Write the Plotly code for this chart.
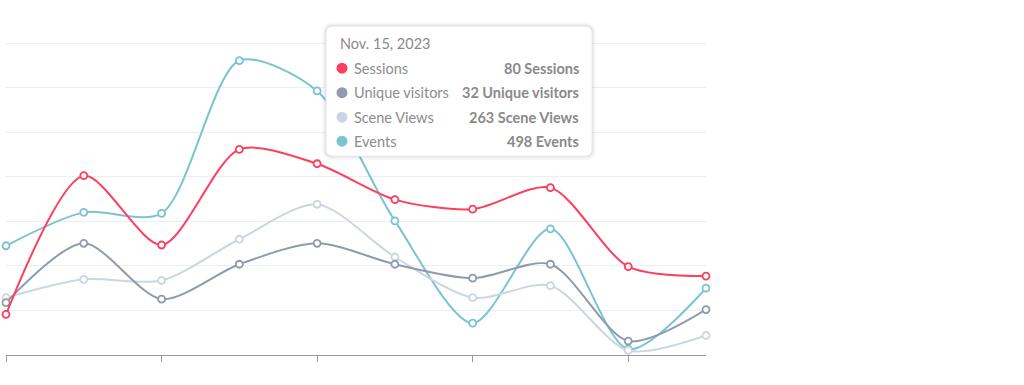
import plotly.graph_objects as go

# ---- data ----
dates = ["Nov. 11, 2023", "Nov. 12, 2023", "Nov. 13, 2023", "Nov. 14, 2023", "Nov. 15, 2023",
         "Nov. 16, 2023", "Nov. 17, 2023", "Nov. 18, 2023", "Nov. 19, 2023", "Nov. 20, 2023"]
sessions = [17, 75, 46, 86, 80, 65, 61, 70, 37, 33]
unique_visitors = [15, 32, 16, 26, 32, 26, 22, 26, 4, 13]
scene_views = [100, 132, 130, 202, 263, 171, 100, 121, 8, 34]
events = [206, 269, 267, 555, 498, 253, 60, 238, 11, 126]

series_names = ["Sessions", "Unique visitors", "Scene Views", "Events"]
series_colors = ["#FB3F5E", "#8E9BAD", "#CBD6E2", "#7AC4D1"]
hover_index = 4

# value at the 7th (top) gridline for each independent (hidden) scale
scale_top = {"Sessions": 130.4, "Unique visitors": 89.3, "Scene Views": 544, "Events": 588}
GRID_N = 7
GRID_TOP = 7.05

W, H = 1024, 385
L, R, B = 6, 318, 30
AX_Y = H - B            # pixel row of x axis (355)
TOPGRID_Y = 43
PH = (AX_Y - TOPGRID_Y) * GRID_TOP / GRID_N
T = H - B - PH
PW = W - L - R

def px(x):
    return (x - L) / PW

def py(y):
    return (AX_Y - y) / PH

x_idx = list(range(len(dates)))

fig = go.Figure()

# gridline carrier axis
fig.add_trace(go.Scatter(x=[0, 9], y=[0, 0], mode="lines", line=dict(width=0),
                         hoverinfo="skip", showlegend=False, yaxis="y"))

values = {"Sessions": sessions, "Unique visitors": unique_visitors,
          "Scene Views": scene_views, "Events": events}

# draw order: events (bottom) ... sessions (top)
order = ["Events", "Scene Views", "Unique visitors", "Sessions"]
for i, name in enumerate(order):
    col = series_colors[series_names.index(name)]
    fig.add_trace(go.Scatter(
        x=x_idx, y=values[name], name=name, mode="lines+markers",
        line=dict(color=col, width=2, shape="spline", smoothing=0.8),
        marker=dict(size=7, color="white", line=dict(color=col, width=1.8)),
        cliponaxis=False, yaxis="y%d" % (i + 2), showlegend=False,
        hoverinfo="skip",
    ))

layout = dict(
    width=W, height=H,
    margin=dict(l=L, r=R, t=T, b=B, pad=0),
    paper_bgcolor="white", plot_bgcolor="white",
    showlegend=False,
    font=dict(family="Lato, Open Sans, sans-serif"),
    xaxis=dict(range=[0, 9], tickvals=[0, 2, 4, 6, 8], showticklabels=False,
               ticks="outside", ticklen=6, tickcolor="#9a9a9a", tickwidth=1,
               showline=True, linecolor="#9a9a9a", linewidth=1.3,
               showgrid=False, zeroline=False, fixedrange=True),
    yaxis=dict(range=[0, GRID_TOP], tickvals=list(range(1, GRID_N + 1)),
               showticklabels=False, showgrid=True,
               gridcolor="#EAEEF5", gridwidth=1.3, zeroline=False, fixedrange=True),
)
for i, name in enumerate(order):
    layout["yaxis%d" % (i + 2)] = dict(range=[0, scale_top[name] * GRID_TOP / GRID_N],
                                       overlaying="y", visible=False, fixedrange=True)
fig.update_layout(**layout)

# ---- static tooltip ----
def rrect(x0, y0, x1, y1, r):
    def P(x, y):
        return "%.5f,%.5f" % (px(x), py(y))
    pts = ["M " + P(x0 + r, y0), "L " + P(x1 - r, y0),
           "Q " + P(x1, y0) + " " + P(x1, y0 + r), "L " + P(x1, y1 - r),
           "Q " + P(x1, y1) + " " + P(x1 - r, y1), "L " + P(x0 + r, y1),
           "Q " + P(x0, y1) + " " + P(x0, y1 - r), "L " + P(x0, y0 + r),
           "Q " + P(x0, y0) + " " + P(x0 + r, y0), "Z"]
    return " ".join(pts)

tx0, ty0, tx1, ty1 = 326, 26, 592, 156
shapes = []
for grow, alpha in [(4, 0.025), (2.5, 0.035), (1.2, 0.05)]:
    shapes.append(dict(type="path", xref="paper", yref="paper",
                       path=rrect(tx0 - grow, ty0 - grow, tx1 + grow, ty1 + grow, 7 + grow),
                       fillcolor="rgba(0,0,0,%.3f)" % alpha, line=dict(width=0), layer="above"))
shapes.append(dict(type="path", xref="paper", yref="paper",
                   path=rrect(tx0, ty0, tx1, ty1, 7),
                   fillcolor="white", line=dict(color="#E9E9E9", width=1), layer="above"))

row_y = [68, 92.5, 117, 141]
annotations = [dict(text=dates[hover_index], x=px(338), y=py(43), xref="paper", yref="paper",
                    xanchor="left", yanchor="middle", showarrow=False,
                    font=dict(size=14.5, color="#8A8A8A"))]
for name, col, yy in zip(series_names, series_colors, row_y):
    r = 5.5
    shapes.append(dict(type="circle", xref="paper", yref="paper",
                       x0=px(342 - r), x1=px(342 + r), y0=py(yy - r), y1=py(yy + r),
                       fillcolor=col, line=dict(width=0), layer="above"))
    annotations.append(dict(text=name, x=px(352), y=py(yy), xref="paper", yref="paper",
                            xanchor="left", yanchor="middle", showarrow=False,
                            font=dict(size=14.5, color="#8C8C8C")))
    annotations.append(dict(text="<b>%d %s</b>" % (values[name][hover_index], name),
                            x=px(581), y=py(yy), xref="paper", yref="paper",
                            xanchor="right", yanchor="middle", showarrow=False,
                            font=dict(size=14.5, color="#8A8A8A")))

fig.update_layout(shapes=shapes, annotations=annotations)
fig.write_html("out.html", config={"displayModeBar": False},
               post_script="document.body.style.margin='0px';")
